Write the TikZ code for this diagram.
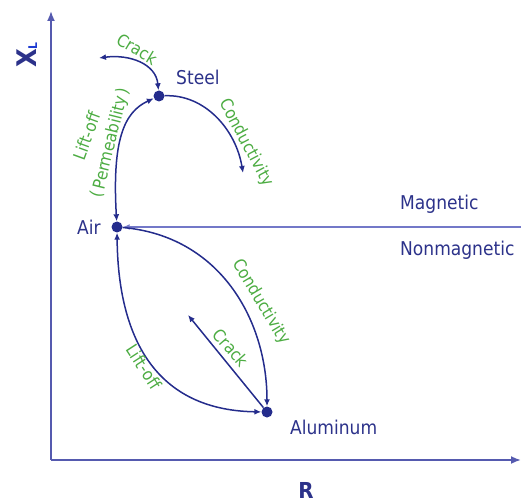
\documentclass[tikz,border=0pt]{standalone}
\usepackage{fontspec}
\setmainfont{DejaVu Sans Condensed}
\usetikzlibrary{arrows.meta}
\definecolor{navy}{RGB}{36,44,140}
\definecolor{axisblue}{RGB}{85,90,175}
\definecolor{lineblue}{RGB}{115,120,200}
\definecolor{labelblue}{RGB}{44,50,138}
\definecolor{lblgreen}{RGB}{76,172,66}
\definecolor{subblue}{RGB}{30,60,210}
\begin{document}
\begin{tikzpicture}[x=1pt,y=-1pt,
  >={Latex[length=7pt,width=6pt]},
  dot/.style={circle,fill=navy,inner sep=0pt,minimum size=11pt},
  curve/.style={draw=navy,line width=1.5pt},
  axis/.style={draw=axisblue,line width=1.8pt,-{Latex[length=10pt,width=8pt]}},
  lbl/.style={text=labelblue,font=\fontsize{19}{22}\selectfont,inner sep=0pt},
  glbl/.style={text=lblgreen,font=\fontsize{17}{20}\selectfont,inner sep=0pt},
  axlbl/.style={text=labelblue,inner sep=0pt}]
\useasboundingbox (0,0) rectangle (521,502);
% axes
\coordinate (origin) at (51,460);
\coordinate (ytop) at (51,11);
\coordinate (xright) at (521,460);
\draw[axis] (origin) -- (ytop);
\draw[axis] (origin) -- (xright);
\node[axlbl,rotate=90,anchor=base west,font=\bfseries\fontsize{27}{28}\selectfont] (xl) at (36,68) {X{\fontsize{12}{12}\selectfont\color{subblue}\raisebox{-1pt}{L}}};
\node[axlbl,anchor=base,font=\bfseries\fontsize{22}{26}\selectfont] (rl) at (306,498) {R};
% points
\node[dot] (steel) at (159,96) {};
\node[dot] (air) at (117,227) {};
\node[dot] (al) at (267,412) {};
\node[lbl,anchor=base west] (steell) at (176,85) {Steel};
\node[lbl,anchor=base west] (airl) at (77,235) {Air};
\node[lbl,anchor=base west] (all) at (290,434) {Aluminum};
\node[lbl,anchor=base west] (magl) at (400,210) {Magnetic};
\node[lbl,anchor=base west] (nonmagl) at (400,255) {Nonmagnetic};
% boundary line
\coordinate (magend) at (521,227);
\draw[draw=lineblue,line width=2pt,->] (magend) -- (air);
% free ends
\coordinate (crackend) at (99,58);
\coordinate (condend) at (243,173);
\coordinate (crackend2) at (188,315);
% connectors
\draw[curve,<->] (crackend) .. controls (130,54) and (156,64) .. (steel);
\draw[curve,->] (steel) .. controls (205,94) and (236,130) .. (condend);
\draw[curve,<->] (air) .. controls (112,140) and (124,112) .. (steel);
\draw[curve,->] (air) .. controls (220,236) and (267,320) .. (al);
\draw[curve,<->] (air) .. controls (118,330) and (150,410) .. (al);
\draw[curve,->] (al) -- (crackend2);
% green labels
\node[glbl,rotate=-31] (crack1) at (137,49) {Crack};
\node[glbl,rotate=-62] (cond1) at (246,143) {Conductivity};
\node[glbl,rotate=70] (lift1) at (87,136) {Lift-off};
\node[glbl,rotate=76] (perm) at (111,143) {(\,Permeability\,)};
\node[glbl,rotate=-59] (cond2) at (261,302) {Conductivity};
\node[glbl,rotate=-49] (crack2) at (231,348) {Crack};
\node[glbl,rotate=-57] (lift2) at (144,367) {Lift-off};
\end{tikzpicture}
\end{document}
